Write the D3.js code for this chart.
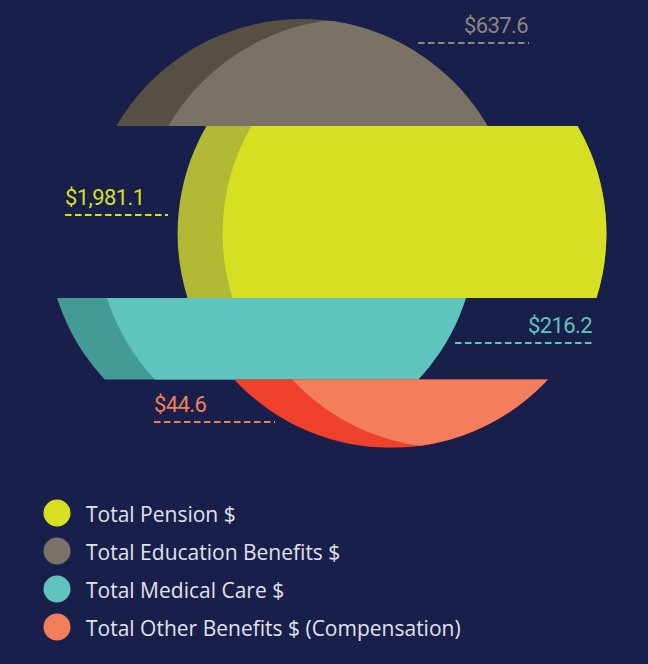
<!DOCTYPE html>
<html>
<head>
<meta charset="utf-8">
<script src="https://cdn.jsdelivr.net/npm/d3@7"></script>
<style>
  html, body { margin: 0; padding: 0; background: #181f4b; }
  svg { display: block; }
</style>
</head>
<body>
<svg></svg>
<script>
// bands are listed top to bottom
const categories = ["Total Education Benefits $", "Total Pension $", "Total Medical Care $", "Total Other Benefits $ (Compensation)"];
const values = [637.6, 1981.1, 216.2, 44.6];
const valueLabels = ["$637.6", "$1,981.1", "$216.2", "$44.6"];
const legendOrder = [1, 0, 2, 3];

const fills = ["#7a7265", "#d7df23", "#5fc4bd", "#f37e5b"];
const shades = ["#575042", "#b2b935", "#449a94", "#ee402b"];
const textColors = ["#8b867e", "#d7df23", "#5fc4bd", "#f37e5b"];

// horizontal slide of each slice, and of the lit part inside it
const shiftX = [-45, 45, -85.5, 44];
const shadeOffset = [52, 45, 50, 58];
const labelLayout = [
  {side: "right", x0: 418, x1: 529, y: 43},
  {side: "left", x0: 65, x1: 168, y: 215},
  {side: "right", x0: 455, x1: 593, y: 343},
  {side: "left", x0: 154, x1: 275, y: 422}
];

const width = 648, height = 664;
const topY = 19, baseX = 347;

const svg = d3.select("svg")
  .attr("width", width)
  .attr("height", height)
  .attr("viewBox", [0, 0, width, height]);

svg.append("rect").attr("width", width).attr("height", height).attr("fill", "#181f4b");

// band thickness from the value
const h = d3.scalePow().exponent(0.8)
  .domain([0, d3.max(values)])
  .range([63, 172]);

let acc = topY;
const bands = values.map((v, i) => {
  const b = {i, v, y0: acc, h: h(v)};
  acc += b.h;
  return b;
});
const R = (acc - topY) / 2;
const cy = topY + R;

const defs = svg.append("defs");
bands.forEach(b => {
  defs.append("clipPath").attr("id", "band" + b.i)
    .append("rect")
    .attr("x", 0).attr("y", b.y0).attr("width", width).attr("height", b.h);
  defs.append("clipPath").attr("id", "disc" + b.i)
    .append("circle")
    .attr("cx", baseX + shiftX[b.i]).attr("cy", cy).attr("r", R);
});

const slices = svg.append("g")
  .selectAll("g")
  .data(bands)
  .join("g")
  .attr("clip-path", d => `url(#band${d.i})`);

slices.append("circle")
  .attr("cx", d => baseX + shiftX[d.i])
  .attr("cy", cy)
  .attr("r", R)
  .attr("fill", d => shades[d.i]);

slices.append("g")
  .attr("clip-path", d => `url(#disc${d.i})`)
  .append("circle")
  .attr("cx", d => baseX + shiftX[d.i] + shadeOffset[d.i])
  .attr("cy", cy)
  .attr("r", R)
  .attr("fill", d => fills[d.i]);

// value labels with dashed leaders
const labels = svg.append("g")
  .selectAll("g")
  .data(bands)
  .join("g");

labels.append("line")
  .attr("x1", d => labelLayout[d.i].x0)
  .attr("x2", d => labelLayout[d.i].x1)
  .attr("y1", d => labelLayout[d.i].y)
  .attr("y2", d => labelLayout[d.i].y)
  .attr("stroke", d => textColors[d.i])
  .attr("stroke-width", 2)
  .attr("stroke-dasharray", "6.5,3.5");

labels.append("text")
  .attr("x", d => labelLayout[d.i].side === "right" ? labelLayout[d.i].x1 - 1 : labelLayout[d.i].x0)
  .attr("y", d => labelLayout[d.i].y - 10)
  .attr("text-anchor", d => labelLayout[d.i].side === "right" ? "end" : "start")
  .attr("fill", d => textColors[d.i])
  .style("font-family", "Roboto, sans-serif")
  .style("font-size", "22px")
  .style("letter-spacing", "-0.6px")
  .text(d => valueLabels[d.i]);

// legend
const legend = svg.append("g")
  .selectAll("g")
  .data(legendOrder)
  .join("g")
  .attr("transform", (d, k) => `translate(57,${513 + k * 38})`);

legend.append("circle")
  .attr("r", 13.5)
  .attr("fill", d => fills[d]);

legend.append("text")
  .attr("x", 29)
  .attr("y", 8.5)
  .attr("fill", "#e1e2ec")
  .style("font-family", "'Open Sans', sans-serif")
  .style("font-size", "21px")
  .text(d => categories[d]);
</script>
</body>
</html>
